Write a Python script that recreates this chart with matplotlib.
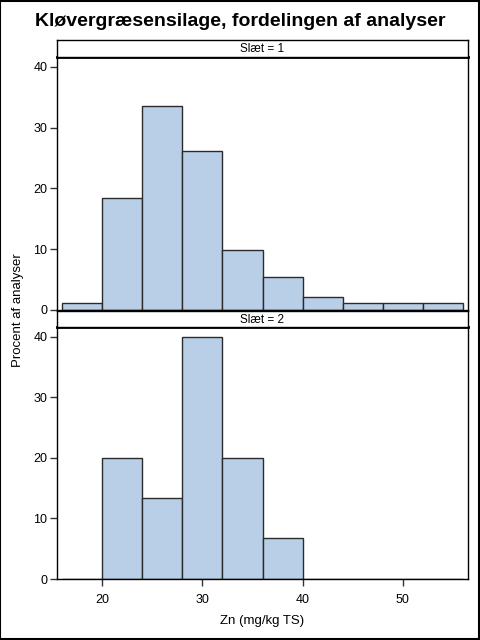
import matplotlib
matplotlib.use("Agg")
import matplotlib.pyplot as plt
from matplotlib.patches import Rectangle

plt.rcParams['font.family'] = ['Liberation Sans', 'DejaVu Sans']

# bin left edges (width 4) and percent per bin for each "Slæt"
bin_left = [16, 20, 24, 28, 32, 36, 40, 44, 48, 52]
bin_width = 4
pct_slaet1 = [1.1, 18.4, 33.6, 26.1, 9.8, 5.4, 2.2, 1.1, 1.1, 1.1]
pct_slaet2 = [0, 20.0, 13.3, 40.0, 20.0, 6.7, 0, 0, 0, 0]
panel_labels = ["Slæt = 1", "Slæt = 2"]
x_ticks = [20, 30, 40, 50]
y_ticks = [0, 10, 20, 30, 40]

W, H = 480, 640
fig = plt.figure(figsize=(W / 100, H / 100), dpi=100)


def px_rect(left, top, right, bottom):
    return [left / W, (H - bottom) / H, (right - left) / W, (bottom - top) / H]


fill = '#B9CFE7'
edge = '#2b2b2b'

panels = [
    (pct_slaet1, (57, 57, 468, 310), (57, 40, 468, 57)),
    (pct_slaet2, (57, 327, 468, 579), (57, 311, 468, 327)),
]

for i, (vals, box, strip) in enumerate(panels):
    ax = fig.add_axes(px_rect(*box))
    ax.bar(bin_left, vals, width=bin_width, align='edge', color=fill,
           edgecolor=edge, linewidth=1)
    ax.set_xlim(15.5, 56.5)
    ax.set_ylim(0, 41.6)
    ax.set_yticks(y_ticks)
    ax.set_xticks(x_ticks)
    ax.tick_params(direction='out', length=5, width=1, labelsize=9,
                   color='#333333', pad=2)
    for s in ax.spines.values():
        s.set_linewidth(1)
    ax.spines['top'].set_linewidth(2)
    if i == 0:
        ax.tick_params(axis='x', bottom=False, labelbottom=False)
    else:
        ax.tick_params(axis='x', pad=6)
        ax.set_xlabel("Zn (mg/kg TS)", fontsize=9.5, labelpad=6)

    sax = fig.add_axes(px_rect(*strip))
    sax.set_xticks([])
    sax.set_yticks([])
    for s in sax.spines.values():
        s.set_linewidth(1)
    sax.text(0.5, 0.45, panel_labels[i], ha='center', va='center',
             fontsize=8.5, transform=sax.transAxes)

fig.text(18 / W, 1 - 310 / H, "Procent af analyser", rotation=90,
         ha='center', va='center', fontsize=9.5)
fig.text(240 / W, 1 - 21 / H, "Kløvergræsensilage, fordelingen af analyser",
         ha='center', va='center', fontsize=14, fontweight='bold')

fig.patches.append(Rectangle((0.001, 0.001), 0.997, 0.997, transform=fig.transFigure,
                             fill=False, edgecolor='black', linewidth=1.5))

fig.savefig("out.png", dpi=100)
